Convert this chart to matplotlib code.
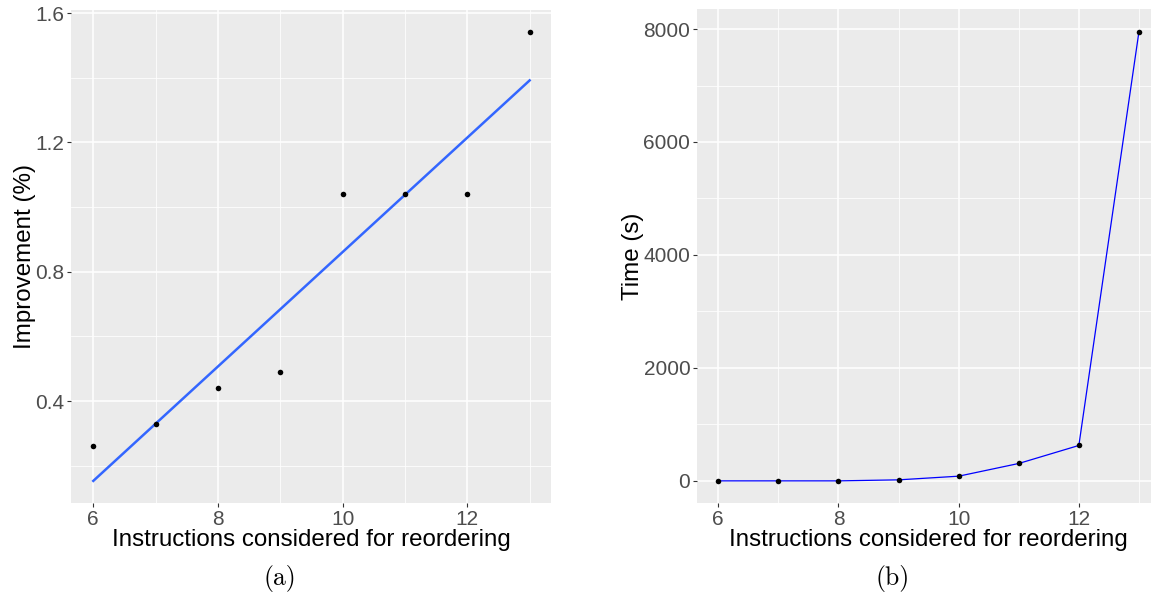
import matplotlib.pyplot as plt
import numpy as np

# panel (a): improvement vs. instructions considered
instr = [6, 7, 8, 9, 10, 11, 12, 13]
improvement = [0.26, 0.33, 0.44, 0.49, 1.04, 1.04, 1.04, 1.54]

# panel (b): time vs. instructions considered
time_s = [0, 0, 0, 18, 83, 308, 627, 7953]

BG = "#EBEBEB"
TICK_COL = "#4D4D4D"


def gg_style(ax, xmajor, ymajor, xminor, yminor):
    ax.set_facecolor(BG)
    for s in ax.spines.values():
        s.set_visible(False)
    ax.set_xticks(xmajor)
    ax.set_yticks(ymajor)
    ax.set_xticks(xminor, minor=True)
    ax.set_yticks(yminor, minor=True)
    ax.grid(which="major", color="white", linewidth=1.1)
    ax.grid(which="minor", color="white", linewidth=0.55)
    ax.set_axisbelow(True)
    ax.tick_params(which="major", length=3, width=0.8, color="#333333",
                   labelcolor=TICK_COL, labelsize=15, pad=2)
    ax.tick_params(which="minor", length=0)


def expand(lo, hi, frac=0.05):
    r = hi - lo
    return lo - frac * r, hi + frac * r


def main():
    plt.rcParams["font.family"] = ["Liberation Sans", "DejaVu Sans"]
    fig = plt.figure(figsize=(11.51, 5.96), dpi=100)

    x = np.array(instr)
    y = np.array(improvement)

    # (a)
    ax1 = fig.add_axes([0.0621, 0.1555, 0.4170, 0.8277])
    slope, icept = np.polyfit(x, y, 1)
    fit = slope * x + icept
    ax1.plot(x, fit, color="#3366FF", linewidth=1.8, zorder=2)
    ax1.scatter(x, y, s=16, color="black", zorder=3, linewidths=0)
    ax1.set_xlim(*expand(x.min(), x.max()))
    ax1.set_ylim(*expand(min(fit.min(), y.min()), max(fit.max(), y.max())))
    gg_style(ax1, [6, 8, 10, 12], [0.4, 0.8, 1.2, 1.6], [7, 9, 11, 13], [0.2, 0.6, 1.0, 1.4])
    ax1.set_yticklabels(["0.4", "0.8", "1.2", "1.6"])
    ax1.set_xlabel("Instructions considered for reordering", fontsize=17.4, labelpad=0)
    ax1.set_ylabel("Improvement (%)", fontsize=17.4, labelpad=-0.5)

    # (b)
    ax2 = fig.add_axes([0.6058, 0.1555, 0.4020, 0.8290])
    t = np.array(time_s)
    ax2.plot(x, t, color="#0000FF", linewidth=0.9, zorder=2)
    ax2.scatter(x, t, s=16, color="black", zorder=3, linewidths=0)
    ax2.set_xlim(*expand(x.min(), x.max()))
    ax2.set_ylim(*expand(t.min(), t.max()))
    gg_style(ax2, [6, 8, 10, 12], [0, 2000, 4000, 6000, 8000], [7, 9, 11, 13], [1000, 3000, 5000, 7000])
    ax2.set_xlabel("Instructions considered for reordering", fontsize=17.4, labelpad=0)
    ax2.set_ylabel("Time (s)", fontsize=17.4, labelpad=-0.5)

    fig.text(280 / 1151, 1 - 578 / 596, "(a)", family="cmr10", fontsize=18.5, ha="center", va="center")
    fig.text(893 / 1151, 1 - 578 / 596, "(b)", family="cmr10", fontsize=18.5, ha="center", va="center")

    fig.savefig("out.png", dpi=100)


if __name__ == "__main__":
    main()
